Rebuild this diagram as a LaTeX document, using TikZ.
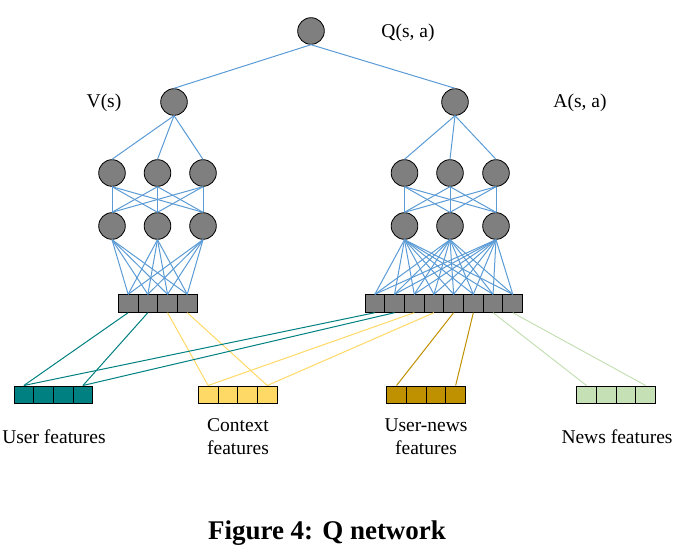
\documentclass[tikz,border=0pt]{standalone}
\usepackage{fontspec}
\setmainfont{Liberation Serif}
\definecolor{nblue}{RGB}{91,155,213}
\definecolor{nteal}{RGB}{0,128,128}
\definecolor{nyellow}{RGB}{255,217,102}
\definecolor{ngold}{RGB}{191,144,0}
\definecolor{ngreen}{RGB}{197,224,180}
\definecolor{ngray}{RGB}{127,127,127}
\tikzset{
  neuron/.style={circle,draw=black,line width=0.8pt,fill=ngray,minimum size=26.6pt,inner sep=0pt},
  cell/.style={rectangle,draw=black,line width=1pt,fill=#1,minimum width=19.7pt,minimum height=17.4pt,inner sep=0pt},
  blink/.style={draw=nblue,line width=1pt},
  flink/.style={draw=#1,line width=1pt},
  lbl/.style={font=\fontsize{19.5}{23}\selectfont,inner sep=0pt,align=center},
}
\begin{document}
\begin{tikzpicture}[x=1pt,y=-1pt]
\useasboundingbox (0,0) rectangle (694,559);
% neurons
\node[neuron] (Q) at (311,31) {};
\node[neuron] (V) at (174,102) {};
\node[neuron] (A) at (455,102) {};
\foreach \i/\x in {1/112,2/157.5,3/203}{
  \node[neuron] (La\i) at (\x,173) {};
  \node[neuron] (Lb\i) at (\x,226) {};
}
\foreach \i/\x in {1/404.5,2/450,3/496}{
  \node[neuron] (Ra\i) at (\x,173) {};
  \node[neuron] (Rb\i) at (\x,226) {};
}
% hidden vectors
\foreach \i in {1,...,4}{
  \node[cell=ngray] (lb\i) at ({118.3+19.7*(\i-0.5)},303.5) {};
}
\foreach \i in {1,...,8}{
  \node[cell=ngray] (rb\i) at ({365+19.7*(\i-0.5)},303.5) {};
}
% feature vectors
\foreach \i in {1,...,4}{
  \node[cell=nteal] (uf\i) at ({14+19.7*(\i-0.5)},394.7) {};
  \node[cell=nyellow] (cf\i) at ({198.3+19.7*(\i-0.5)},394.7) {};
  \node[cell=ngold] (unf\i) at ({386.7+19.7*(\i-0.5)},394.7) {};
  \node[cell=ngreen] (nf\i) at ({576.7+19.7*(\i-0.5)},394.7) {};
}
% blue links
\draw[blink] (Q.south) -- (V.north);
\draw[blink] (Q.south) -- (A.north);
\foreach \i in {1,2,3}{
  \draw[blink] (V.south) -- (La\i.north);
  \draw[blink] (A.south) -- (Ra\i.north);
  \foreach \j in {1,2,3}{
    \draw[blink] (La\i.south) -- (Lb\j.north);
    \draw[blink] (Ra\i.south) -- (Rb\j.north);
  }
  \foreach \k in {1,...,4}{
    \draw[blink] (Lb\i.south) -- (lb\k.north);
  }
  \foreach \k in {1,...,8}{
    \draw[blink] (Rb\i.south) -- (rb\k.north);
  }
}
% feature links
\draw[flink=nteal] (lb1.south) -- (uf1.north);
\draw[flink=nteal] (lb2.south) -- (uf4.north);
\draw[flink=nyellow] (lb3.south) -- (cf1.north);
\draw[flink=nyellow] (lb4.south) -- (cf4.north);
\draw[flink=nteal] (rb1.south) -- (uf1.north);
\draw[flink=nteal] (rb2.south) -- (uf4.north);
\draw[flink=nyellow] (rb3.south) -- (cf1.north);
\draw[flink=nyellow] (rb4.south) -- (cf4.north);
\draw[flink=ngold] (rb5.south) -- (unf1.north);
\draw[flink=ngold] (rb6.south) -- (unf4.north);
\draw[flink=ngreen] (rb7.south) -- (nf1.north);
\draw[flink=ngreen] (rb8.south) -- (nf4.north);
% labels
\node[lbl] (tQ) at (408,33) {Q(s, a)};
\node[lbl] (tV) at (104,103) {V(s)};
\node[lbl] (tA) at (580,103) {A(s, a)};
\node[lbl] (tU) at (54,437) {User features};
\node[lbl] (tC) at (238,436.5) {Context\\features};
\node[lbl] (tUN) at (426,436.5) {User-news\\features};
\node[lbl] (tN) at (617,437) {News features};
\node[inner sep=0pt,font=\fontsize{27}{31}\bfseries\selectfont] (cap) at (327,533) {Figure 4: Q network};
\end{tikzpicture}
\end{document}
